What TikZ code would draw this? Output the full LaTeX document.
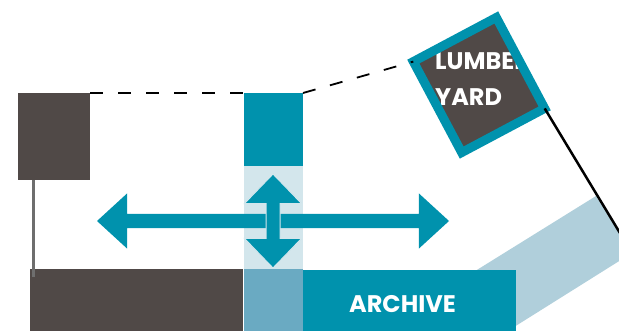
\documentclass[tikz,border=0pt]{standalone}
\usepackage{fontspec}
\setmainfont{Poppins}
\definecolor{yarddark}{RGB}{80, 73, 71}
\definecolor{yardteal}{RGB}{0, 146, 173}
\definecolor{yardpale}{RGB}{211, 230, 236}
\definecolor{yardmid}{RGB}{106, 170, 194}
\definecolor{yardband}{RGB}{176, 207, 219}
\definecolor{yardstem}{RGB}{110, 110, 110}
\usetikzlibrary{shapes.arrows, positioning, calc}

\begin{document}
\begin{tikzpicture}[x=1pt, y=-1pt,
  block/.style={inner sep=0pt, outer sep=0pt, anchor=north west},
  dashline/.style={black, line width=1.8pt, dash pattern=on 13pt off 15pt},
  bigarrow/.style={double arrow, fill=yardteal, inner sep=0pt, outer sep=0pt},
  caption/.style={text=white, font=\bfseries\fontsize{24}{36}\selectfont, inner sep=0pt}]
  \useasboundingbox (0,0) rectangle (619,331);
  \clip (0,0) rectangle (619,331);

  % band behind the archive
  \fill[yardband] (443,291) -- (596,196) -- (632,253) -- (471,354) -- cycle;

  % left buildings
  \node[block, fill=yarddark, minimum width=72pt, minimum height=87pt] (shed) at (18,93) {};
  \node[block, fill=yarddark, minimum width=213pt, minimum height=66pt] (hall) at (30,269) {};
  \draw[yardstem, line width=3pt] ([xshift=15pt]shed.south west) -- ([xshift=3pt, yshift=-8pt]hall.north west);

  % middle column
  \node[block, fill=yardteal, minimum width=59pt, minimum height=73pt] (tower) at (244,93) {};
  \node[block, fill=yardpale, minimum width=59pt, minimum height=103pt] (passage) at (244,166) {};
  \node[block, fill=yardmid, minimum width=59pt, minimum height=66pt] (gate) at (244,269) {};

  % archive
  \node[block, fill=yardteal, minimum width=213pt, minimum height=66pt] (archive) at (303,270) {};
  \node[caption] at ([xshift=-7pt, yshift=-1pt]archive.center) {ARCHIVE};

  % lumber yard
  \node[fill=yarddark, rotate=28, minimum width=94pt, minimum height=103pt,
        inner sep=0pt, outer sep=0pt] (lumber) at (479,85) {};
  \begin{scope}
    \clip (lumber.north west) -- (lumber.north east) -- (lumber.south east) -- (lumber.south west) -- cycle;
    \node[caption, anchor=base west, align=left] (lumbertext) at (435,106) {LUMBER\\YARD};
  \end{scope}
  \draw[yardteal, line width=9pt] (lumber.north west) -- (lumber.north east) -- (lumber.south east) -- (lumber.south west) -- cycle;

  % connections
  \coordinate (cableend) at (626,243);
  \draw[dashline] (shed.north east) -- (tower.north west);
  \draw[dashline] (tower.north east) -- (lumber.north west);
  \draw[black, line width=2.5pt] (lumber.south east) -- (cableend);

  % arrows
  \node[bigarrow, minimum height=352pt, inner ysep=7pt,
        double arrow head extend=20.5pt, double arrow tip angle=85] (sweep) at (273,221) {};
  \node[bigarrow, rotate=90, draw=yardpale, line width=1pt, minimum height=94pt, inner ysep=6.5pt,
        double arrow head extend=21.5pt, double arrow tip angle=88] (lift) at (273,221) {};
\end{tikzpicture}
\end{document}
